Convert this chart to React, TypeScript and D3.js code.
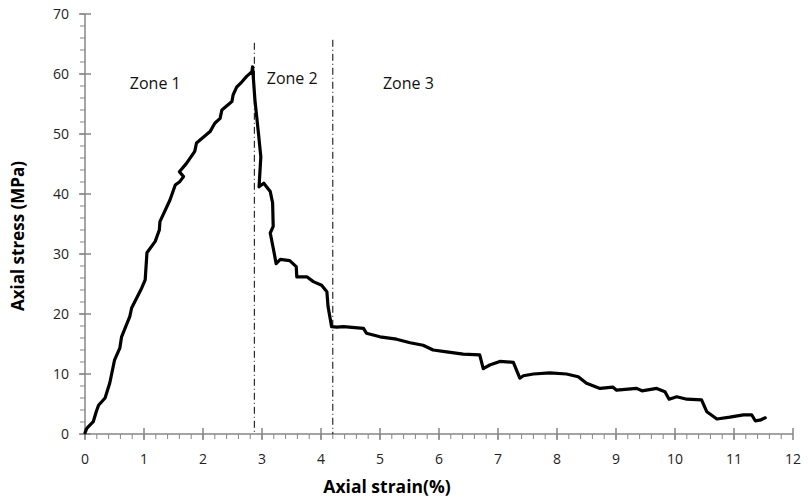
import React, { useEffect, useRef } from 'react'
import * as d3 from 'd3'

// strain (%) / stress (MPa)
const strain = [0, 0.03, 0.14, 0.19, 0.23, 0.34, 0.42, 0.5, 0.59, 0.62, 0.76, 0.79, 0.96, 1.02, 1.05, 1.19, 1.26, 1.27, 1.44, 1.53, 1.61, 1.67, 1.6, 1.72, 1.86, 1.89, 2.12, 2.2, 2.29, 2.32, 2.49, 2.51, 2.57, 2.66, 2.74, 2.83, 2.84,
  2.88, 2.94, 2.98, 2.95, 3.03, 3.14, 3.18, 3.19, 3.14, 3.19, 3.24, 3.31, 3.47, 3.58, 3.59, 3.76, 3.87, 4.01, 4.1, 4.12, 4.18,
  4.27, 4.38, 4.72, 4.77, 5.0, 5.28, 5.51, 5.73, 5.9, 6.13, 6.41, 6.69, 6.75, 6.86, 7.03, 7.26, 7.37, 7.43, 7.6, 7.88, 8.16, 8.36, 8.5, 8.73, 8.95, 9.01, 9.35, 9.44, 9.69, 9.83, 9.9, 10.03, 10.2, 10.45, 10.54, 10.71, 10.93, 11.16, 11.3, 11.36, 11.44, 11.53]
const stress = [0.2, 0.95, 2.05, 3.7, 4.8, 6.0, 8.5, 12.3, 14.3, 16.2, 19.6, 21.0, 24.3, 25.7, 30.2, 32.1, 34.0, 35.4, 39.0, 41.5, 42.1, 42.9, 43.7, 45.1, 47.1, 48.5, 50.4, 51.8, 52.6, 54.0, 55.4, 56.5, 57.8, 58.7, 59.6, 60.4, 61.2,
  55.7, 50.1, 46.2, 41.2, 41.8, 40.4, 38.5, 34.6, 33.5, 31.0, 28.4, 29.1, 28.9, 27.9, 26.2, 26.2, 25.4, 24.8, 23.7, 21.2, 17.9,
  17.8, 17.9, 17.6, 16.8, 16.2, 15.8, 15.2, 14.8, 14.0, 13.7, 13.3, 13.2, 10.9, 11.5, 12.1, 11.95, 9.3, 9.7, 10.0, 10.2, 10.0, 9.55, 8.45, 7.6, 7.8, 7.3, 7.6, 7.2, 7.6, 7.05, 5.8, 6.2, 5.8, 5.7, 3.7, 2.5, 2.8, 3.2, 3.2, 2.2, 2.3, 2.7]

const zoneBounds = [2.87, 4.2]
const zoneTops = [65.2, 65.7]
const zoneNames = ['Zone 1', 'Zone 2', 'Zone 3']
const zoneX = [0.76, 3.08, 5.05]
const zoneY = [57.5, 58.3, 57.5]

const FONT = '"Liberation Sans Narrow", "Open Sans", sans-serif'

export default function App() {
  const ref = useRef<SVGSVGElement>(null)
  useEffect(() => {
    const el = ref.current
    if (!el) return
    const svg = d3.select(el)
    svg.selectAll('*').remove()
    const x = d3.scaleLinear().domain([0, 12]).range([85, 793])
    const y = d3.scaleLinear().domain([0, 70]).range([434, 14])
    const axisCol = '#868686'

    // y axis
    const gy = svg.append('g')
    gy.append('line').attr('x1', 85).attr('x2', 85).attr('y1', y(70)).attr('y2', y(0)).attr('stroke', axisCol).attr('stroke-width', 1.5)
    gy.selectAll('.minor').data(d3.range(0, 71, 2)).enter().append('line')
      .attr('x1', 80).attr('x2', 85).attr('y1', d => y(d)).attr('y2', d => y(d)).attr('stroke', axisCol)
    gy.selectAll('.major').data(y.ticks(7)).enter().append('line')
      .attr('x1', 79).attr('x2', 91).attr('y1', d => y(d)).attr('y2', d => y(d)).attr('stroke', axisCol).attr('stroke-width', 1.5)
    gy.selectAll('text').data(y.ticks(7)).enter().append('text')
      .attr('x', 69).attr('y', d => y(d)).attr('dy', '0.35em').attr('text-anchor', 'end')
      .attr('font-size', 14).attr('font-family', FONT).attr('fill', '#222').text(d => d)

    // x axis
    const gx = svg.append('g')
    gx.append('line').attr('x1', x(0)).attr('x2', x(12)).attr('y1', 434).attr('y2', 434).attr('stroke', axisCol).attr('stroke-width', 1.5)
    gx.selectAll('.minor').data(d3.range(0, 60).map(i => i * 0.2)).enter().append('line')
      .attr('x1', d => x(d)).attr('x2', d => x(d)).attr('y1', 434).attr('y2', 439).attr('stroke', axisCol)
    gx.selectAll('.major').data(x.ticks(12)).enter().append('line')
      .attr('x1', d => x(d)).attr('x2', d => x(d)).attr('y1', 428).attr('y2', 440).attr('stroke', axisCol).attr('stroke-width', 1.5)
    gx.selectAll('text').data(x.ticks(12)).enter().append('text')
      .attr('x', d => x(d)).attr('y', 464).attr('text-anchor', 'middle')
      .attr('font-size', 14).attr('font-family', FONT).attr('fill', '#222').text(d => d)

    // zone boundaries
    svg.selectAll('.zone').data(zoneBounds).enter().append('line')
      .attr('x1', d => x(d)).attr('x2', d => x(d)).attr('y1', (d, i) => y(zoneTops[i])).attr('y2', y(0))
      .attr('stroke', '#000').attr('stroke-width', 1).attr('stroke-dasharray', '7,3,1,3')
    svg.selectAll('.zlab').data(zoneNames).enter().append('text')
      .attr('x', (d, i) => x(zoneX[i])).attr('y', (d, i) => y(zoneY[i]))
      .attr('font-size', 16).attr('font-family', FONT).attr('fill', '#111').text(d => d)

    // curve
    const pts = strain.map((s, i) => [s, stress[i]] as [number, number])
    const line = d3.line<[number, number]>().x(d => x(d[0])).y(d => y(d[1]))
    svg.append('path').attr('d', line(pts)).attr('fill', 'none').attr('stroke', '#000')
      .attr('stroke-width', 3.2).attr('stroke-linejoin', 'round').attr('stroke-linecap', 'round')

    // titles
    svg.append('text').attr('x', 387).attr('y', 493).attr('text-anchor', 'middle')
      .attr('font-size', 17.5).attr('font-weight', 'bold').attr('font-family', FONT).text('Axial strain(%)')
    svg.append('text').attr('transform', 'translate(24,236) rotate(-90)').attr('text-anchor', 'middle')
      .attr('font-size', 17).attr('font-weight', 'bold').attr('font-family', FONT).text('Axial stress (MPa)')
  }, [])

  return (
    <svg ref={ref} width={808} height={504} style={{ position: 'absolute', left: 0, top: 0, background: '#fff' }} />
  )
}
